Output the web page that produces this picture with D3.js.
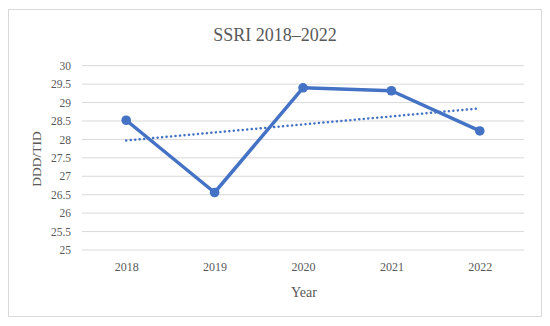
<!DOCTYPE html>
<html><head><meta charset="utf-8">
<script src="https://cdn.jsdelivr.net/npm/d3@7"></script>
<style>body{margin:0;background:#fff}svg{display:block}text{font-family:"Liberation Serif","DejaVu Serif",serif;fill:#595959}</style>
</head><body><svg id="c" width="550" height="326"></svg>
<script>
const years = ["2018","2019","2020","2021","2022"];
const values = [28.52, 26.56, 29.40, 29.32, 28.23];
const yTicks = [25,25.5,26,26.5,27,27.5,28,28.5,29,29.5,30];
const title = "SSRI 2018–2022";
const xTitle = "Year";
const yTitle = "DDD/TID";

const svg = d3.select("#c");
svg.append("rect").attr("x",8.5).attr("y",9.5).attr("width",533).attr("height",307)
  .attr("fill","#fff").attr("stroke","#d9d9d9");

const x = d3.scalePoint().domain(years).range([82,524]).padding(0.5);
const y = d3.scaleLinear().domain([25,30]).range([250,65.7]);

svg.append("g").selectAll("line").data(yTicks).join("line")
  .attr("x1",82).attr("x2",524).attr("y1",d=>y(d)).attr("y2",d=>y(d))
  .attr("stroke","#d9d9d9").attr("stroke-width",1);

const yAxis = svg.append("g").attr("transform","translate(82,0)")
  .call(d3.axisLeft(y).tickValues(yTicks).tickSize(0).tickPadding(11).tickFormat(d=>String(d)));
yAxis.select(".domain").remove();
yAxis.selectAll("text").attr("font-size",11.5).style("font-family",'"Liberation Serif",serif').attr("fill","#595959");

const xAxis = svg.append("g").attr("transform","translate(0,251)")
  .call(d3.axisBottom(x).tickSize(0).tickPadding(11));
xAxis.select(".domain").remove();
xAxis.selectAll("text").attr("font-size",12).style("font-family",'"Liberation Serif",serif').attr("fill","#595959");

// linear trendline (least squares) from the data
const n = values.length, xs = d3.range(n);
const mx = d3.mean(xs), my = d3.mean(values);
const slope = d3.sum(xs, i => (i-mx)*(values[i]-my)) / d3.sum(xs, i => (i-mx)*(i-mx));
const icpt = my - slope*mx;
const trend = [0, n-1].map(i => [years[i], icpt + slope*i]);
svg.append("path").datum(trend)
  .attr("d", d3.line().x(d=>x(d[0])).y(d=>y(d[1])))
  .attr("fill","none").attr("stroke","#4472C4").attr("stroke-width",2.5)
  .attr("stroke-dasharray","0.1 4.4").attr("stroke-linecap","round");

const data = years.map((yr,i)=>({yr, v: values[i]}));
svg.append("path").datum(data)
  .attr("d", d3.line().x(d=>x(d.yr)).y(d=>y(d.v)))
  .attr("fill","none").attr("stroke","#4472C4").attr("stroke-width",3.5).attr("stroke-linejoin","round");
svg.append("g").selectAll("circle").data(data).join("circle")
  .attr("cx",d=>x(d.yr)).attr("cy",d=>y(d.v)).attr("r",4.8).attr("fill","#4472C4");

svg.append("text").attr("x",275).attr("y",41).attr("text-anchor","middle")
  .attr("font-size",18).text(title);
svg.append("text").attr("x",304).attr("y",297).attr("text-anchor","middle")
  .attr("font-size",14).text(xTitle);
svg.append("text").attr("transform","translate(41,159) rotate(-90)").attr("text-anchor","middle")
  .attr("font-size",13.5).text(yTitle);
</script></body></html>
